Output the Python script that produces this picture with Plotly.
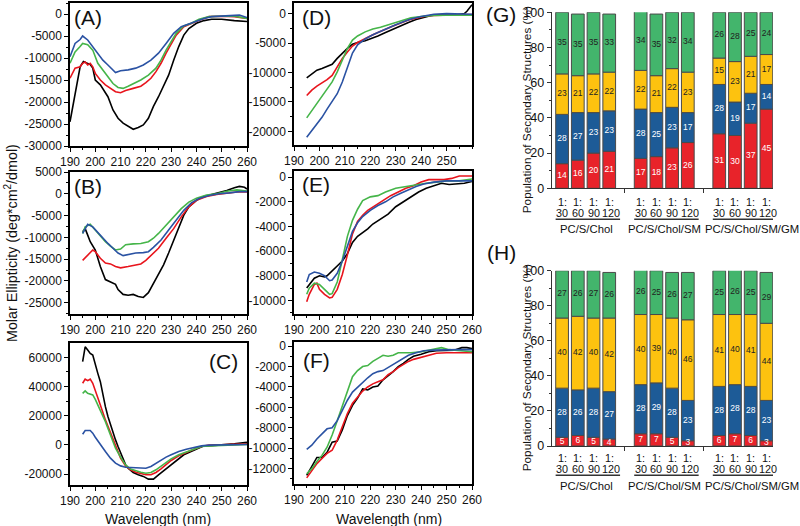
import numpy as np
import plotly.graph_objects as go

W, H = 800, 526
FONT = "Liberation Sans, Arial, sans-serif"

# ---------------- CD spectra data (wavelength nm, molar ellipticity) ----------------
A_black_wl = [190,192.6,194,195.3,196,197,198,199,200,202,205,207,209,211,213,215,217,219,221,223,225,227,229,231,233,235,237,240,243,246,250,255,260]
A_black = [-24500,-16500,-12000,-10800,-11000,-11300,-11500,-12300,-15000,-16100,-18800,-21800,-23700,-24800,-25600,-26200,-25800,-25200,-23700,-21000,-18800,-16500,-13900,-10500,-7400,-4800,-3300,-2100,-1500,-1200,-1200,-1500,-1700]
A_red_wl = [190,192,194,195,196,197,198,199,200,202,204,206,208,210,212,215,218,220,222,224,226,228,230,232,235,238,241,245,250,255,260]
A_red = [-14600,-12300,-12000,-11200,-10900,-11600,-11200,-12000,-13500,-15000,-16100,-16900,-17650,-17900,-17400,-16900,-16400,-15600,-14600,-13100,-11200,-8900,-6700,-4800,-2900,-2100,-1400,-600,-500,-600,-1000]
A_green_wl = [190,192,194,195,197,199,201,203,205,207,209,211,213,215,218,221,224,226,228,230,232,235,238,241,245,250,255,260]
A_green = [-11200,-8600,-7400,-6700,-7000,-8200,-11200,-12700,-14200,-15800,-16700,-16900,-16400,-15800,-15000,-13900,-12300,-10500,-8200,-6300,-4400,-2700,-2100,-1200,-600,-500,-500,-1000]
A_blue_wl = [190,192,194,195,197,199,201,203,205,207,208,210,213,216,219,222,225,228,231,234,237,240,243,246,250,255,257,260]
A_blue = [-9700,-6700,-5800,-5000,-5900,-7400,-8900,-10500,-11600,-12900,-13300,-12900,-12700,-12300,-11600,-10500,-8900,-6700,-4400,-2900,-2300,-1700,-1000,-600,-500,-400,-250,-800]

B_black_wl = [195,196,197,198,200,202,204,206,208,209,211,213,215,217,219,221,223,225,227,229,231,233,235,237,240,243,246,249,252,255,257,259,260]
B_black = [-8700,-8000,-9500,-11000,-12900,-16700,-19700,-20200,-20800,-22000,-23100,-23300,-23100,-23600,-23800,-22700,-20500,-18200,-16300,-13600,-10600,-7600,-4900,-3000,-1500,-600,-150,400,750,1400,1700,1500,1100]
B_red_wl = [195,197,199,200,202,204,206,208,210,213,216,218,220,222,225,228,231,234,237,240,244,248,252,256,260]
B_red = [-15300,-14000,-12900,-13300,-14800,-15900,-16100,-16700,-17000,-16700,-16400,-16100,-15300,-14200,-12500,-10200,-8000,-5300,-3000,-1500,-600,-150,150,400,400]
B_green_wl = [195,196,198,200,202,204,206,208,210,212,215,218,221,223,225,228,231,234,237,240,244,248,252,256,260]
B_green = [-9100,-7600,-7000,-8300,-9800,-11000,-12000,-12900,-12700,-11700,-11500,-11400,-11000,-10200,-9100,-7200,-5300,-3400,-1900,-1000,-300,0,600,900,600]
B_blue_wl = [195,197,199,201,203,205,207,209,211,213,216,219,221,223,226,229,232,235,238,241,245,249,253,257,260]
B_blue = [-9100,-7000,-7600,-8900,-10200,-11400,-12500,-13600,-14200,-14000,-13600,-13500,-13300,-12300,-10600,-8300,-6100,-3800,-2100,-1100,-400,0,200,500,500]

C_black_wl = [195,196,197,198,199,200,201,202,203,204,205,206,207,208,209,210,211,212,213,215,217,219,221,223,225,227,229,231,233,235,237,240,243,246,250,255,260]
C_black = [57000,67200,65000,62700,61600,54700,49000,43300,34200,26200,19400,13700,9100,3400,-1100,-5700,-10300,-13700,-16000,-18900,-20500,-21600,-23500,-23500,-20500,-17800,-14800,-11900,-9100,-6800,-5200,-3000,-700,-500,0,700,1800]
C_red_wl = [195,196,197,198,199,200,202,204,206,208,210,212,214,216,218,220,222,224,226,228,230,233,236,239,242,245,250,255,260]
C_red = [42200,45000,44000,45000,42200,37600,27300,17100,8000,-1100,-9100,-14400,-17100,-18700,-19800,-20500,-20500,-18900,-16400,-13700,-10700,-7500,-5000,-3000,-1100,-200,0,400,700]
C_green_wl = [195,196,197,199,200,202,204,206,208,210,212,214,216,218,220,222,224,226,228,230,233,236,239,242,245,250,255,260]
C_green = [35300,37000,35300,34200,31200,23900,15900,6800,-2300,-8400,-13700,-16600,-17800,-18700,-19400,-18900,-17100,-14400,-11900,-9600,-6800,-4800,-3000,-1100,-700,-200,0,200]
C_blue_wl = [195,196,198,199,200,202,204,206,208,210,212,214,216,218,220,222,224,226,228,230,233,236,239,242,245,250,255,260]
C_blue = [7300,9800,9800,8000,5200,0,-4600,-9100,-12500,-14400,-15300,-15500,-15700,-16000,-16000,-14800,-12500,-10300,-8400,-6800,-4600,-3000,-1600,-700,-200,-200,0,200]

D_black_wl = [195,197,199,201,203,205,207,209,211,213,215,218,220,223,226,229,232,235,238,241,244,247,250,254,257,258,260]
D_black = [-10900,-10300,-9600,-9300,-8900,-8600,-7600,-6700,-5900,-5200,-4900,-4600,-4300,-3800,-3200,-2600,-2100,-1500,-1000,-600,-300,-200,-200,-200,0,400,1500]
D_red_wl = [195,197,199,201,203,205,207,209,211,213,215,218,220,223,226,229,232,235,238,241,245,250,255,260]
D_red = [-13900,-13000,-12300,-11800,-11200,-10500,-9000,-7600,-6500,-5500,-4900,-4200,-3800,-3200,-2600,-2100,-1600,-1100,-800,-500,-300,-250,-200,-150]
D_green_wl = [195,197,199,201,203,205,207,209,211,213,215,218,221,224,227,230,233,236,240,245,250,255,260]
D_green = [-17700,-16500,-15300,-14200,-13000,-11600,-9900,-7900,-5900,-4500,-3800,-3100,-2600,-2300,-1900,-1500,-1100,-700,-500,-300,-250,-250,-250]
D_blue_wl = [195,197,199,201,203,205,207,209,211,213,215,218,221,224,227,230,233,236,240,245,250,255,260]
D_blue = [-21000,-19900,-18700,-17600,-16200,-15000,-13600,-11600,-9000,-6700,-5300,-4300,-3600,-3000,-2500,-1900,-1400,-900,-500,-100,0,-100,-100]

E_black_wl = [195,196,198,200,202,203,205,207,209,211,213,215,217,219,221,224,227,230,233,236,239,242,245,248,251,254,257,260]
E_black = [-9000,-8700,-8200,-8000,-8100,-8000,-7600,-7200,-6800,-6200,-5300,-4800,-4500,-4200,-3800,-3400,-3000,-2400,-2000,-1600,-1200,-900,-700,-500,-600,-550,-500,-350]
E_red_wl = [195,196,198,199,200,202,204,205,207,209,211,213,215,217,219,222,225,228,231,234,237,240,243,246,249,252,255,258,260]
E_red = [-10100,-9500,-8700,-8600,-9100,-9500,-9800,-9750,-9100,-7900,-6300,-4600,-3600,-3100,-2700,-2300,-1900,-1500,-1200,-900,-700,-400,-200,-200,-200,-100,100,100,100]
E_green_wl = [195,196,198,200,202,204,205,207,209,211,213,215,217,220,223,226,230,234,238,242,246,250,255,260]
E_green = [-9500,-9000,-8600,-8700,-9100,-9500,-9450,-8500,-6700,-4800,-3500,-2600,-1900,-1600,-1500,-1200,-900,-750,-600,-500,-400,-300,-300,-150]
E_blue_wl = [195,196,198,200,202,204,205,207,209,211,213,215,217,220,223,226,229,232,235,238,241,245,250,255,260]
E_blue = [-8500,-7900,-7700,-7800,-8000,-8400,-8350,-7800,-6800,-5600,-4400,-3700,-3200,-2700,-2300,-2000,-1600,-1300,-1000,-750,-550,-400,-300,-300,-300]

F_black_wl = [195,197,199,201,203,205,207,209,211,213,215,217,219,221,223,225,227,229,231,233,235,237,240,243,246,250,253,256,258,260]
F_black = [-12650,-11800,-10900,-10900,-10400,-9400,-9300,-8200,-6800,-5800,-5100,-4200,-4300,-4000,-3900,-3300,-2900,-2500,-2000,-1700,-1300,-1000,-800,-550,-450,-400,-400,-150,-150,-250]
F_red_wl = [195,197,199,201,203,205,207,209,211,213,215,217,219,221,223,225,227,229,231,233,235,237,240,243,246,250,255,260]
F_red = [-12900,-12200,-11500,-11000,-10500,-10200,-9200,-7900,-6600,-5600,-5000,-4400,-4000,-3700,-3500,-3300,-2800,-2500,-2100,-1800,-1500,-1300,-1100,-900,-700,-650,-650,-650]
F_green_wl = [195,197,199,201,203,205,207,209,211,213,215,217,219,221,223,225,227,229,231,233,236,240,243,246,248,251,255,260]
F_green = [-12500,-12000,-11300,-10700,-9900,-8700,-7300,-5800,-4500,-3000,-2400,-2000,-1900,-1500,-1200,-900,-1000,-900,-650,-650,-650,-550,-400,-250,-150,-350,-450,-550]
F_blue_wl = [195,197,199,201,203,205,207,209,211,213,215,217,219,221,223,225,227,229,231,233,235,238,241,245,250,255,260]
F_blue = [-10100,-9700,-9100,-8600,-8100,-8000,-7300,-6300,-5300,-4500,-4000,-3500,-3100,-2700,-2500,-2400,-2100,-1800,-1500,-1200,-900,-650,-450,-400,-350,-350,-350]

# ---------------- Secondary structure data (%) ----------------
ratios = ["30", "60", "90", "120"]
groups = ["PC/S/Chol", "PC/S/Chol/SM", "PC/S/Chol/SM/GM"]
bar_pos = [0, 1, 2, 3, 5, 6, 7, 8, 10, 11, 12, 13]

G_red = [14, 16, 20, 21, 17, 18, 23, 26, 31, 30, 37, 45]
G_blue = [28, 27, 23, 23, 28, 25, 23, 17, 28, 19, 17, 14]
G_yellow = [23, 21, 22, 22, 22, 21, 22, 23, 15, 23, 21, 17]
G_green = [35, 35, 35, 33, 34, 35, 32, 34, 26, 28, 25, 24]

H_red = [5, 6, 5, 4, 7, 7, 5, 3, 6, 7, 6, 3]
H_blue = [28, 26, 28, 27, 28, 29, 28, 23, 28, 28, 28, 23]
H_yellow = [40, 42, 40, 42, 40, 39, 40, 46, 41, 40, 41, 44]
H_green = [27, 26, 27, 26, 26, 25, 26, 27, 25, 26, 25, 29]

# ---------------- styling ----------------
LINE_COLORS = {"black": "#000000", "red": "#e8141c", "green": "#45b549", "blue": "#2a52a3"}
SEG_COLORS = {"red": "#e8232a", "blue": "#1d5b97", "yellow": "#fdc20f", "green": "#43b56c"}
SEG_TEXT = {"red": "white", "blue": "white", "yellow": "#222222", "green": "#222222"}


def fx(px):
    return px / W


def fy(py):
    return 1 - py / H


fig = go.Figure()

spectra = {
    "A": [(A_black_wl, A_black, "black"), (A_red_wl, A_red, "red"), (A_green_wl, A_green, "green"), (A_blue_wl, A_blue, "blue")],
    "B": [(B_black_wl, B_black, "black"), (B_red_wl, B_red, "red"), (B_green_wl, B_green, "green"), (B_blue_wl, B_blue, "blue")],
    "C": [(C_black_wl, C_black, "black"), (C_red_wl, C_red, "red"), (C_green_wl, C_green, "green"), (C_blue_wl, C_blue, "blue")],
    "D": [(D_black_wl, D_black, "black"), (D_red_wl, D_red, "red"), (D_green_wl, D_green, "green"), (D_blue_wl, D_blue, "blue")],
    "E": [(E_black_wl, E_black, "black"), (E_red_wl, E_red, "red"), (E_green_wl, E_green, "green"), (E_blue_wl, E_blue, "blue")],
    "F": [(F_black_wl, F_black, "black"), (F_red_wl, F_red, "red"), (F_green_wl, F_green, "green"), (F_blue_wl, F_blue, "blue")],
}

# panel geometry in pixels: (left, right, top, bottom), y range, y ticks, y minor step, x ticks
panels = {
    "A": dict(ax=1, box=(70, 247, 3, 146), yr=[-30000, 2500], yt=list(range(-30000, 1, 5000)), ym=2500, xt=list(range(190, 261, 10)), lab=(88, 17)),
    "B": dict(ax=2, box=(70, 247, 172, 314), yr=[-27600, 5000], yt=list(range(-25000, 5001, 5000)), ym=2500, xt=list(range(190, 261, 10)), lab=(88, 186)),
    "C": dict(ax=3, box=(70, 247, 343, 485), yr=[-27500, 69800], yt=list(range(-20000, 60001, 20000)), ym=10000, xt=list(range(190, 261, 10)), lab=(223, 361)),
    "D": dict(ax=4, box=(294, 472, 3, 145), yr=[-22300, 1800], yt=list(range(-20000, 1, 5000)), ym=2500, xt=list(range(190, 251, 10)), lab=(316, 17)),
    "E": dict(ax=5, box=(294, 472, 171, 314), yr=[-11100, 500], yt=list(range(-10000, 1, 2000)), ym=1000, xt=list(range(190, 261, 10)), lab=(316, 185)),
    "F": dict(ax=6, box=(294, 472, 342, 484), yr=[-13500, 400], yt=list(range(-12000, 1, 2000)), ym=1000, xt=list(range(190, 261, 10)), lab=(316, 360)),
}

annotations = []
shapes = []

for name, p in panels.items():
    n = p["ax"]
    xa = "x" if n == 1 else f"x{n}"
    ya = "y" if n == 1 else f"y{n}"
    for wl, vals, col in spectra[name]:
        fig.add_trace(go.Scatter(x=wl, y=vals, mode="lines", xaxis=xa, yaxis=ya,
                                 line=dict(color=LINE_COLORS[col], width=1.6), showlegend=False,
                                 hoverinfo="skip"))
    l, r, t, b = p["box"]
    axis_common = dict(showline=True, linecolor="black", linewidth=1.5, mirror=True, ticks="outside",
                       ticklen=4, tickwidth=1, tickcolor="black", showgrid=False, zeroline=False,
                       automargin=False, tickfont=dict(family=FONT, size=12, color="#111111"))
    fig.layout[f"xaxis{'' if n == 1 else n}"] = dict(
        domain=[fx(l), fx(r)], range=[190, 260], anchor=ya, tickmode="array", tickvals=p["xt"],
        ticktext=[str(v) for v in p["xt"]],
        minor=dict(tickmode="linear", tick0=190, dtick=5, ticks="outside", ticklen=2, tickcolor="black"),
        **axis_common)
    fig.layout[f"yaxis{'' if n == 1 else n}"] = dict(
        domain=[fy(b), fy(t)], range=p["yr"], anchor=xa, tickmode="array", tickvals=p["yt"],
        ticktext=[str(v) for v in p["yt"]],
        minor=dict(tickmode="linear", tick0=0, dtick=p["ym"], ticks="outside", ticklen=2, tickcolor="black"),
        **axis_common)
    annotations.append(dict(text=f"({name})", x=fx(p["lab"][0]), y=fy(p["lab"][1]), xref="paper", yref="paper",
                            showarrow=False, font=dict(family=FONT, size=21, color="#111111"),
                            xanchor="center", yanchor="middle"))

# ---------------- stacked bar panels ----------------
bar_panels = {
    "G": dict(ax=7, segs=[("red", G_red), ("blue", G_blue), ("yellow", G_yellow), ("green", G_green)],
              top=12.3, bottom=188.3, lab=(501, 15), y1=201.7, y2=212.7, yl=219.3, yg=229.5),
    "H": dict(ax=8, segs=[("red", H_red), ("blue", H_blue), ("yellow", H_yellow), ("green", H_green)],
              top=270.7, bottom=446, lab=(501, 253), y1=457.7, y2=469.3, yl=475.3, yg=485.5),
}

label_shift = [0.0, 0.0, 0.0, 0.12]
group_shift = [0.05, 0.0, 0.6]

for name, p in bar_panels.items():
    n = p["ax"]
    xa, ya = f"x{n}", f"y{n}"
    base = np.zeros(len(bar_pos))
    for col, vals in p["segs"]:
        v = np.array(vals, dtype=float)
        fig.add_trace(go.Bar(x=bar_pos, y=v, base=base, width=0.81, xaxis=xa, yaxis=ya,
                             marker=dict(color=SEG_COLORS[col], line=dict(color="#4a4a4a", width=1)),
                             showlegend=False, hoverinfo="skip"))
        fig.add_trace(go.Scatter(x=bar_pos, y=base + v / 2, mode="text", text=[str(x) for x in vals],
                                 xaxis=xa, yaxis=ya, textposition="middle center",
                                 textfont=dict(family=FONT, size=8.5, color=SEG_TEXT[col]),
                                 showlegend=False, hoverinfo="skip", cliponaxis=False))
        base = base + v
    fig.layout[f"xaxis{n}"] = dict(domain=[fx(551.7), fx(773)], range=[-0.66, 13.42], anchor=ya,
                                   showline=True, linecolor="#333333", linewidth=1.2, ticks="outside",
                                   tickvals=[4, 9], showticklabels=False, ticklen=4, tickcolor="#333333",
                                   showgrid=False, zeroline=False, automargin=False)
    fig.layout[f"yaxis{n}"] = dict(domain=[fy(p["bottom"]), fy(p["top"])], range=[0, 100], anchor=xa,
                                   showline=True, linecolor="#333333", linewidth=1.2, ticks="outside",
                                   tickvals=[0, 20, 40, 60, 80, 100], ticklen=4, tickcolor="#333333",
                                   minor=dict(tickmode="linear", tick0=0, dtick=10, ticks="outside", ticklen=2,
                                              tickcolor="#333333"),
                                   tickfont=dict(family=FONT, size=12.5, color="#111111"),
                                   showgrid=False, zeroline=False, automargin=False)
    annotations.append(dict(text=f"({name})", x=fx(p["lab"][0]), y=fy(p["lab"][1]), xref="paper", yref="paper",
                            showarrow=False, font=dict(family=FONT, size=21, color="#111111"),
                            xanchor="center", yanchor="middle"))
    annotations.append(dict(text="Population of Secondary Structures (%)", textangle=-90,
                            x=fx(527), y=fy((p["top"] + p["bottom"]) / 2 + 10), xref="paper", yref="paper",
                            showarrow=False, font=dict(family=FONT, size=11.8, color="#111111"),
                            xanchor="center", yanchor="middle"))
    for gi, g in enumerate(groups):
        for ri, rt in enumerate(ratios):
            xp = bar_pos[gi * 4 + ri]
            annotations.append(dict(text="1:", x=xp, y=fy(p["y1"]), xref=xa, yref="paper", showarrow=False,
                                    font=dict(family=FONT, size=10.8, color="#111111"),
                                    xanchor="center", yanchor="middle"))
            annotations.append(dict(text=rt, x=xp + label_shift[ri], y=fy(p["y2"]), xref=xa, yref="paper",
                                    showarrow=False, font=dict(family=FONT, size=10.8, color="#111111"),
                                    xanchor="center", yanchor="middle"))
        x0 = bar_pos[gi * 4]
        shapes.append(dict(type="line", xref=xa, yref="paper", x0=x0 - 0.41, x1=x0 + 3.69,
                           y0=fy(p["yl"]), y1=fy(p["yl"]), line=dict(color="#333333", width=1.6)))
        annotations.append(dict(text=g, x=x0 + 1.5 + group_shift[gi], y=fy(p["yg"]), xref=xa, yref="paper",
                                showarrow=False, font=dict(family=FONT, size=11.3, color="#111111"),
                                xanchor="center", yanchor="middle"))

# ---------------- shared titles ----------------
annotations.append(dict(text="Molar Ellipticity (deg*cm<sup>2</sup>/dmol)", textangle=-90, x=fx(11), y=fy(243),
                        xref="paper", yref="paper", showarrow=False,
                        font=dict(family=FONT, size=14.3, color="#111111"), xanchor="center", yanchor="middle"))
annotations.append(dict(text="Wavelength (nm)", x=fx(158), y=fy(519), xref="paper", yref="paper", showarrow=False,
                        font=dict(family=FONT, size=14, color="#111111"), xanchor="center", yanchor="middle"))
annotations.append(dict(text="Wavelength (nm)", x=fx(389), y=fy(519), xref="paper", yref="paper", showarrow=False,
                        font=dict(family=FONT, size=14, color="#111111"), xanchor="center", yanchor="middle"))

fig.update_layout(width=W, height=H, margin=dict(l=0, r=0, t=0, b=0, autoexpand=False), plot_bgcolor="white",
                  paper_bgcolor="white", barmode="overlay", showlegend=False,
                  annotations=annotations, shapes=shapes, font=dict(family=FONT))

fig.write_html("out.html", config={"displayModeBar": False},
               post_script="document.body.style.margin='0';document.body.style.padding='0';")
